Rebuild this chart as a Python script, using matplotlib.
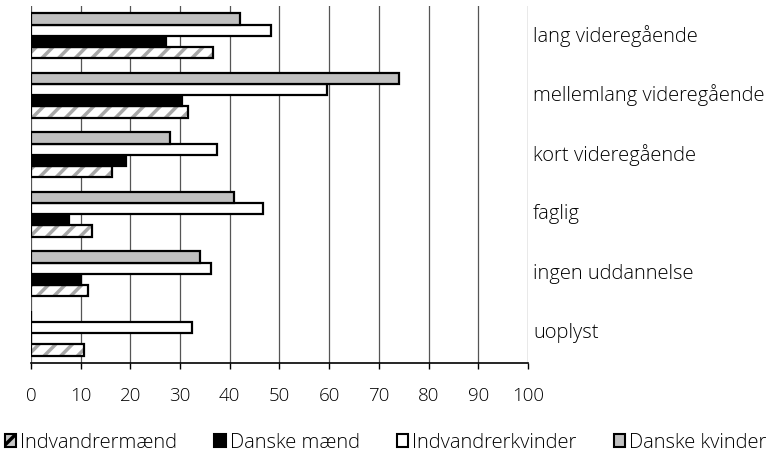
import matplotlib.pyplot as plt
import numpy as np
from matplotlib.patches import Patch

plt.rcParams['font.family'] = ['Open Sans', 'DejaVu Sans']
plt.rcParams['font.weight'] = 300
plt.rcParams['hatch.linewidth'] = 2.5

categories = ['lang videregående', 'mellemlang videregående', 'kort videregående',
              'faglig', 'ingen uddannelse', 'uoplyst']
indvandrermaend = [36.7, 31.6, 16.2, 12.2, 11.5, 10.6]
danske_maend = [27.2, 30.3, 19.2, 7.7, 10.1, 0]
indvandrerkvinder = [48.2, 59.6, 37.4, 46.7, 36.2, 32.3]
danske_kvinder = [42.0, 74.0, 28.0, 40.8, 34.0, 0]

fig = plt.figure(figsize=(7.68, 4.59), dpi=100)
ax = fig.add_axes([0.0404, 0.209, 0.647, 0.778])

y = np.arange(len(categories))[::-1].astype(float)  # top group first
h = 0.1875
lw = 1.6

# bottom to top inside each group
off = [-1.5 * h, -0.5 * h, 0.5 * h, 1.5 * h]

# hatched bars: grey stripes, then black outline on top
ax.barh(y + off[0], indvandrermaend, height=h, color='white', edgecolor='#a8a8a8',
        hatch='//', linewidth=0, zorder=3)
ax.barh(y + off[0], indvandrermaend, height=h, color='none', edgecolor='black',
        linewidth=lw, zorder=4)
ax.barh(y + off[1], danske_maend, height=h, color='black', edgecolor='black',
        linewidth=lw, zorder=3)
ax.barh(y + off[2], indvandrerkvinder, height=h, color='white', edgecolor='black',
        linewidth=lw, zorder=3)
ax.barh(y + off[3], danske_kvinder, height=h, color='#c0c0c0', edgecolor='black',
        linewidth=lw, zorder=3)

ax.set_xlim(0, 100)
ax.set_ylim(-0.5, 5.5)
ax.set_xticks(range(0, 101, 10))
ax.set_yticks([])
ax.tick_params(axis='x', length=4.5, width=1, pad=13, labelsize=13.5, color='black')
ax.grid(axis='x', color='#555555', linewidth=0.9, zorder=0)
for s in ['top', 'right', 'left']:
    ax.spines[s].set_visible(False)
ax.spines['bottom'].set_linewidth(1.2)

for yi, name in zip(y, categories):
    ax.text(100 + 1, yi, name, va='center', ha='left', fontsize=14.5, clip_on=False)

handles = [
    Patch(facecolor='#c8c8c8', edgecolor='black', hatch='//', linewidth=1.5),
    Patch(facecolor='black', edgecolor='black', linewidth=1.5),
    Patch(facecolor='white', edgecolor='black', linewidth=1.5),
    Patch(facecolor='#c0c0c0', edgecolor='black', linewidth=1.5),
]
labels = ['Indvandrermænd', 'Danske mænd', 'Indvandrerkvinder', 'Danske kvinder']
fig.legend(handles, labels, loc='center', bbox_to_anchor=(0.502, 0.035), ncol=4,
           frameon=False, fontsize=14.5, handlelength=0.55, handleheight=0.6,
           handletextpad=0.2, columnspacing=1.85, borderaxespad=0)

fig.savefig('out.png', dpi=100)
